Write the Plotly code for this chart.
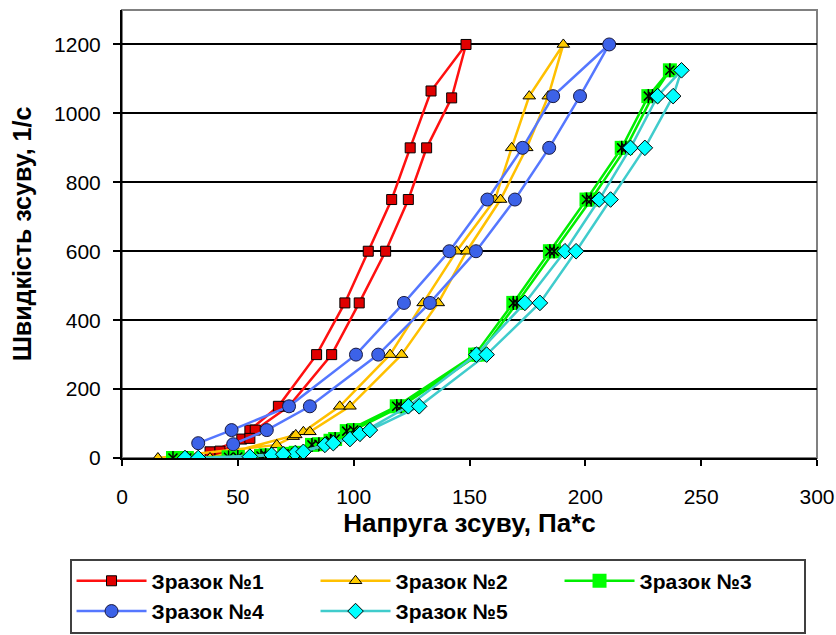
import plotly.graph_objects as go

# Shear stress (Pa*s) and shear rate (1/s) for each sample: up-curve then down-curve
s1_stress = [38, 51.7, 55.2, 67.5, 84.0, 96.2, 106.3, 116.4, 124.4, 133.4, 148.5,
             142.3, 131.5, 123.6, 113.8, 102.4, 90.5, 72.0, 57.5, 55.2, 42.3]
s1_rate = [18, 55, 81, 150, 300, 450, 600, 750, 900, 1065, 1200,
           1045, 900, 750, 600, 450, 300, 150, 81, 57, 20]

s2_stress = [15.5, 66.8, 73.9, 78.3, 94.0, 115.7, 130.0, 144.4, 161.0, 168.2, 175.8, 190.5,
             184.0, 174.7, 163.4, 148.8, 136.5, 120.7, 98.4, 81.1, 75.0, 38.0]
s2_rate = [0, 38, 62, 76, 150, 300, 450, 600, 750, 900, 1050, 1200,
           1050, 900, 750, 600, 450, 300, 150, 76, 67, 0]

s3_stress = [22, 50, 60, 70, 82, 90, 97, 118.6, 152.4, 168.9, 184.7, 200.5, 215.7, 227.2, 236.5,
             229, 217.5, 202.5, 186.5, 170.5, 154, 120.5, 100, 92, 85, 75, 62, 46, 28]
s3_rate = [0, 3, 6, 12, 38, 50, 78, 150, 300, 450, 600, 750, 900, 1050, 1125,
           1050, 900, 750, 600, 450, 300, 150, 81, 55, 40, 15, 8, 2, 0]

s4_stress = [32.9, 47.3, 72.1, 101.0, 121.7, 141.3, 157.7, 172.9, 186.1, 210.3,
             197.7, 184.4, 169.6, 152.8, 132.9, 110.6, 81.1, 62.5, 48.0]
s4_rate = [43, 81, 150, 300, 450, 600, 750, 900, 1050, 1200,
           1050, 900, 750, 600, 450, 300, 150, 81, 40]

s5_stress = [27.2, 55.2, 64.6, 74.7, 87.6, 98.4, 102.7, 123.6, 153.0, 173.9, 191.2, 206.0, 219.5, 231.2, 241.5,
             237.9, 225.7, 210.9, 196.0, 180.4, 157.4, 128.3, 107.0, 91.2, 78.3, 69.6, 32.9]
s5_rate = [0, 4, 9, 14, 38, 55, 70, 150, 300, 450, 600, 750, 900, 1050, 1125,
           1050, 900, 750, 600, 450, 300, 150, 81, 43, 18, 11, 0]

names = ["Зразок №1", "Зразок №2", "Зразок №3", "Зразок №4", "Зразок №5"]

x_ticks = [0, 50, 100, 150, 200, 250, 300]
y_ticks = [0, 200, 400, 600, 800, 1000, 1200]

FONT = "Liberation Sans, Arial, sans-serif"

fig = go.Figure()

fig.add_trace(go.Scatter(
    x=s1_stress, y=s1_rate, name=names[0], mode="lines+markers",
    line=dict(color="#ff1010", width=2.5),
    marker=dict(symbol="square", size=10, color="#e00000", line=dict(color="#000000", width=1)),
))
fig.add_trace(go.Scatter(
    x=s2_stress, y=s2_rate, name=names[1], mode="lines+markers",
    line=dict(color="#ffc000", width=2.5),
    marker=dict(symbol="triangle-up", size=11, color="#ffcc00", line=dict(color="#000000", width=1)),
))
fig.add_trace(go.Scatter(
    x=s3_stress, y=s3_rate, name=names[2], mode="lines+markers", legendgroup="s3",
    line=dict(color="#00ee00", width=2.5),
    marker=dict(symbol="square", size=14, color="#00ff00", line=dict(width=0)),
))
# star glyph drawn on top of the green squares
fig.add_trace(go.Scatter(
    x=s3_stress, y=s3_rate, mode="markers", legendgroup="s3", showlegend=False, hoverinfo="skip",
    marker=dict(symbol="x-thin-open", size=9, color="#000000", line=dict(color="#000000", width=1.5)),
))
fig.add_trace(go.Scatter(
    x=s3_stress, y=s3_rate, mode="markers", legendgroup="s3", showlegend=False, hoverinfo="skip",
    marker=dict(symbol="line-ns-open", size=10, color="#000000", line=dict(color="#000000", width=1.5)),
))
fig.add_trace(go.Scatter(
    x=s4_stress, y=s4_rate, name=names[3], mode="lines+markers",
    line=dict(color="#5577ff", width=2.5),
    marker=dict(symbol="circle", size=13, color="#3c62e8", line=dict(color="#1a1a40", width=1)),
))
fig.add_trace(go.Scatter(
    x=s5_stress, y=s5_rate, name=names[4], mode="lines+markers",
    line=dict(color="#40cccc", width=2.5),
    marker=dict(symbol="diamond", size=12, color="#00ffff", line=dict(color="#000000", width=1)),
))

# plot-area frame (top and right edges)
fig.add_shape(type="rect", xref="paper", yref="paper", x0=0, x1=1, y0=0, y1=1,
              line=dict(color="#808080", width=2), layer="below")

fig.update_layout(
    width=836, height=635,
    margin=dict(l=122, r=19, t=10, b=177, autoexpand=False),
    paper_bgcolor="white", plot_bgcolor="white",
    font=dict(family=FONT, color="#000000"),
    xaxis=dict(
        range=[0, 300], tickvals=x_ticks, ticktext=[str(v) for v in x_ticks],
        showline=True, linecolor="#000000", linewidth=2,
        ticks="outside", ticklen=6, tickwidth=2, tickcolor="#000000",
        showgrid=False, zeroline=False, automargin=False,
        tickfont=dict(size=21, family=FONT), ticklabelstandoff=13,
        title=dict(text="Напруга зсуву, Па*с", font=dict(size=26, family=FONT, weight="bold"), standoff=3),
    ),
    yaxis=dict(
        range=[0, 1300], tickvals=y_ticks, ticktext=[str(v) for v in y_ticks],
        showline=True, linecolor="#000000", linewidth=2,
        ticks="outside", ticklen=7, tickwidth=2, tickcolor="#000000",
        showgrid=True, gridcolor="#000000", gridwidth=2, zeroline=False, automargin=False,
        tickfont=dict(size=21, family=FONT), ticklabelstandoff=8,
        title=dict(text="Швидкість зсуву, 1/с", font=dict(size=25, family=FONT, weight="bold"), standoff=15),
    ),
    legend=dict(
        orientation="h", x=-0.0755, xanchor="left", y=-0.2246, yanchor="top",
        bordercolor="#404040", borderwidth=2, bgcolor="white",
        font=dict(size=21, family=FONT, weight="bold"),
        itemwidth=70, entrywidth=159,
        traceorder="normal",
    ),
    showlegend=True,
)

fig.write_html("out.html")
